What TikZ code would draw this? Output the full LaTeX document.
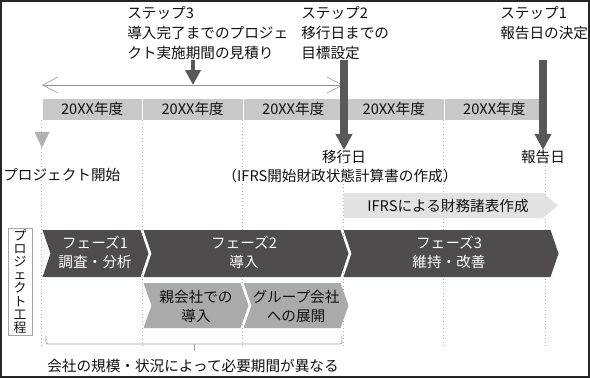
\documentclass[tikz,border=0pt]{standalone}
\usepackage{fontspec}
\setmainfont{Noto Sans CJK JP}
\usetikzlibrary{arrows.meta}

\definecolor{phasedark}{RGB}{78,76,76}
\definecolor{barfill}{RGB}{88,88,88}
\definecolor{yearfill}{RGB}{200,200,200}
\definecolor{subfill}{RGB}{170,170,170}
\definecolor{ifrsfill}{RGB}{226,226,226}
\definecolor{markfill}{RGB}{178,178,178}
\definecolor{ink}{RGB}{15,15,15}

% chevron band: fill, x from, x to, y top, y bottom, notch depth
\newcommand{\arrowband}[6]{%
  \fill[#1] (#2+0.5,#4) -- (#3-2.5,#4) -- (#3+5.5,{(#4+#5)/2}) -- (#3-2.5,#5)
    -- (#2+0.5,#5) -- (#2+0.5+#6,{(#4+#5)/2}) -- cycle;}

\tikzset{
  lbl/.style={inner sep=0pt, text=ink, font=\fontsize{10.4}{14.2}\selectfont},
  steptext/.style={lbl, align=left, anchor=west},
  yearbox/.style={lbl, fill=yearfill, draw=white, line width=0.5pt,
    minimum width=2.5125cm, minimum height=0.55cm},
  phasetext/.style={lbl, align=center, text=white,
    font=\fontsize{10.4}{13.5}\selectfont},
  subtext/.style={lbl, align=center, font=\fontsize{10.4}{13.5}\selectfont},
  guide/.style={gray!60, dotted, line width=0.5pt},
  span/.style={gray!85, line width=0.4pt,
    {Straight Barb[length=11pt,width=11.5pt]}-{Straight Barb[length=11pt,width=11.5pt]}},
  stepbar/.style={barfill, line width=5pt, -{Triangle[width=11.5pt,length=11.5pt]}},
  smallbar/.style={barfill, line width=3.5pt, -{Triangle[width=10.6pt,length=10.6pt]}},
}

\begin{document}
\begin{tikzpicture}[x=0.025cm, y=-0.025cm]
  \useasboundingbox (0,0) rectangle (590,378);

  % fiscal years
  \node[yearbox] (y1) at (92.25,109) {20XX年度};
  \node[yearbox] (y2) at (192.75,109) {20XX年度};
  \node[yearbox] (y3) at (293.25,109) {20XX年度};
  \node[yearbox] (y4) at (393.75,109) {20XX年度};
  \node[yearbox] (y5) at (494.25,109) {20XX年度};

  % year guides
  \draw[guide] (y1.south west) -- ++(0,226);
  \draw[guide] (y2.south west) -- ++(0,226);
  \draw[guide] (y3.south west) -- ++(0,226);
  \draw[guide] (y4.south west) -- ++(0,226);
  \draw[guide] (y5.south west) -- ++(0,226);
  \draw[guide] (y5.south east) -- ++(0,226);

  % steps
  \node[steptext] (step3) at (127,33)
    {ステップ3\\導入完了までのプロジェ\\クト実施期間の見積り};
  \node[steptext] (step2) at (301,33) {ステップ2\\移行日までの\\目標設定};
  \node[steptext] (step1) at (500,23) {ステップ1\\報告日の決定};

  % estimated span
  \coordinate (spanL) at (42,85);
  \coordinate (spanR) at (343,85);
  \draw[span] (spanL) -- (spanR);
  \coordinate (s3tip) at (193,85);
  \draw[smallbar] (step3.south -| s3tip) -- (s3tip);

  % milestones
  \node[lbl] (mig) at (344,157) {移行日};
  \node[lbl] (migsub) at (340,176) {（IFRS開始財政状態計算書の作成）};
  \node[lbl] (rep) at (543,157) {報告日};
  \coordinate (b2) at (344,60);
  \coordinate (b1) at (543,60);
  \draw[stepbar] (b2) -- (mig.north);
  \draw[stepbar] (b1) -- (rep.north);

  % project start
  \fill[markfill] (34.5,132) -- (49.5,132) -- (42,148) -- cycle;
  \node[lbl, anchor=west] (start) at (3,175) {プロジェクト開始};

  % IFRS statements
  \fill[ifrsfill] (344,193) -- (543,193) -- (558,205.5) -- (543,218)
    -- (344,218) -- cycle;
  \node[lbl] (ifrs) at (448,205.5) {IFRSによる財務諸表作成};

  % phases
  \arrowband{phasedark}{42}{143}{230}{277}{8}
  \arrowband{phasedark}{143}{343}{230}{277}{8}
  \arrowband{phasedark}{343}{553}{230}{277}{8}
  \node[phasetext] (ph1) at (95,252.5) {フェーズ1\\調査・分析};
  \node[phasetext] (ph2) at (244,252.5) {フェーズ2\\導入};
  \node[phasetext] (ph3) at (449,252.5) {フェーズ3\\維持・改善};

  % sub phases
  \arrowband{subfill}{143}{243}{283}{328}{8}
  \arrowband{subfill}{243}{343}{283}{328}{8}
  \node[subtext] (sp1) at (196,306) {親会社での\\導入};
  \node[subtext] (sp2) at (296,306) {グループ会社\\への展開};

  % process label
  \node[draw=gray!70, line width=0.5pt, inner sep=0pt, text=ink,
    minimum width=0.6cm, minimum height=2.675cm, align=center,
    font=\fontsize{9.2}{9.4}\selectfont] (proc) at (20,281.5)
    {プ\\ロ\\ジ\\ェ\\ク\\ト\\工\\程};

  % duration bracket
  \coordinate (brL) at (46,336);
  \coordinate (brR) at (342,336);
  \coordinate (brM) at (194,344);
  \draw[gray!75, line width=0.5pt, rounded corners=1.5pt]
    (brL) |- (brM) -| (brR);
  \draw[gray!75, line width=0.5pt] (brM) -- ++(0,7);
  \node[lbl] (note) at (193,366) {会社の規模・状況によって必要期間が異なる};

  % frame
  \draw[black!85, line width=1.4pt] (1,1) rectangle (589,377);
\end{tikzpicture}
\end{document}
